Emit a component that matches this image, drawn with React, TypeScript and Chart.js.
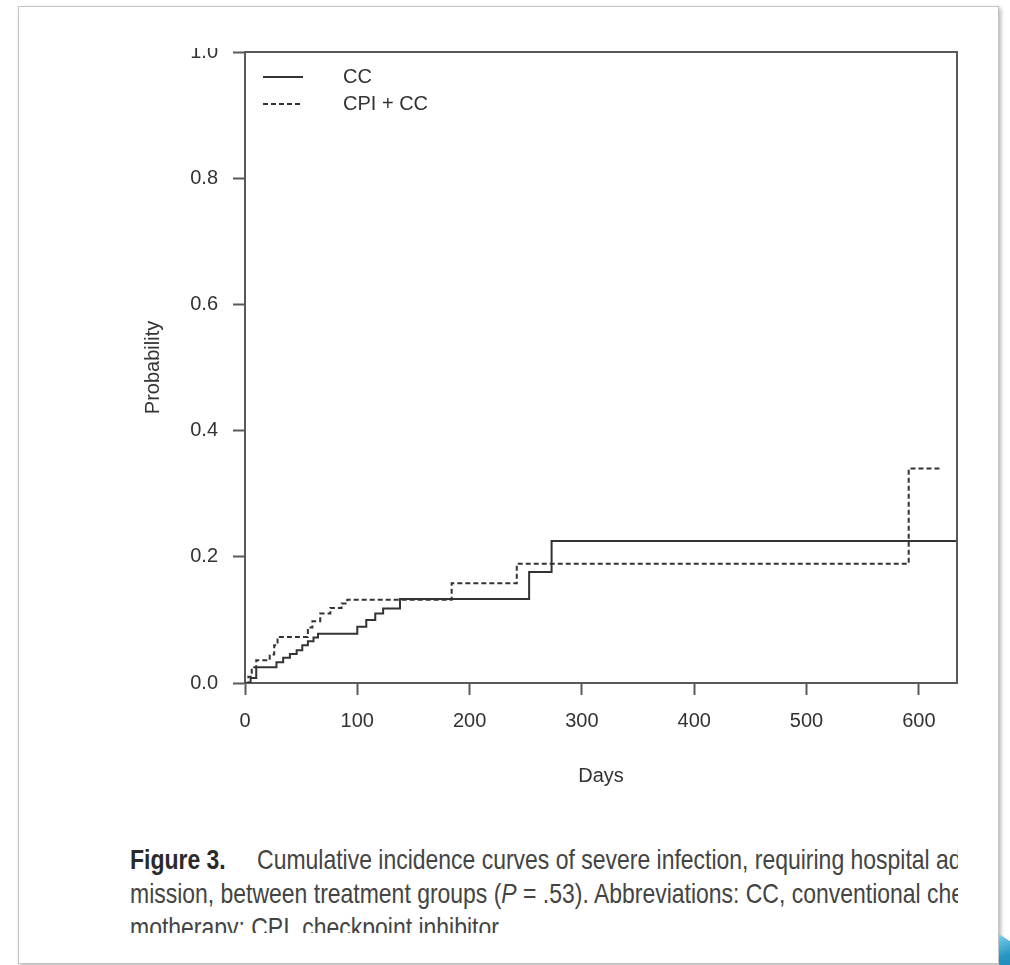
import React, { useEffect, useRef } from "react";
import { Chart, registerables } from "chart.js";

Chart.register(...registerables);

// ---- data ----
const seriesLabels = ["CC", "CPI + CC"];
const ccDays = [0, 5, 10, 28, 34, 40, 46, 51, 56, 61, 65, 100, 108, 116, 123, 138, 253, 273, 634];
const ccProb = [0, 0.008, 0.025, 0.033, 0.04, 0.046, 0.052, 0.06, 0.066, 0.072, 0.078, 0.089, 0.1, 0.11, 0.118, 0.133, 0.176, 0.225, 0.225];
const cpiDays = [0, 3, 6, 10, 22, 26, 29, 56, 60, 67, 76, 86, 91, 184, 242, 591, 619];
const cpiProb = [0, 0.01, 0.025, 0.036, 0.045, 0.06, 0.073, 0.088, 0.098, 0.11, 0.119, 0.126, 0.132, 0.158, 0.189, 0.34, 0.34];
const xTicks = [0, 100, 200, 300, 400, 500, 600];
const yTicks = [0, 0.2, 0.4, 0.6, 0.8, 1.0];
const xMax = 634;
const xTitle = "Days";
const yTitle = "Probability";

const INK = "#333333";
const AXIS = "#595959";
const FONT = "'Liberation Sans', Arial, Helvetica, sans-serif";
const CAPTION_FONT = "'Liberation Sans', Arial, sans-serif";

export default function App() {
  const ref = useRef<HTMLCanvasElement | null>(null);

  useEffect(() => {
    const canvas = ref.current;
    if (!canvas) return;

    const framePlugin = {
      id: "frameBox",
      afterDraw(chart: any) {
        const { ctx, chartArea } = chart;
        ctx.save();
        ctx.strokeStyle = AXIS;
        ctx.lineWidth = 2;
        ctx.beginPath();
        ctx.moveTo(chartArea.left, chartArea.top);
        ctx.lineTo(chartArea.right, chartArea.top);
        ctx.lineTo(chartArea.right, chartArea.bottom);
        ctx.stroke();
        ctx.restore();
      },
    };

    const legendPlugin = {
      id: "kmLegend",
      afterDraw(chart: any) {
        const { ctx, chartArea } = chart;
        ctx.save();
        chart.data.datasets.forEach((ds: any, i: number) => {
          const y = chartArea.top + 25 + i * 27;
          ctx.strokeStyle = ds.borderColor;
          ctx.lineWidth = 2;
          ctx.setLineDash(ds.borderDash || []);
          ctx.beginPath();
          ctx.moveTo(chartArea.left + 18, y);
          ctx.lineTo(chartArea.left + 58, y);
          ctx.stroke();
          ctx.setLineDash([]);
          ctx.fillStyle = INK;
          ctx.font = `20px ${FONT}`;
          ctx.textAlign = "left";
          ctx.textBaseline = "middle";
          ctx.fillText(ds.label, chartArea.left + 98, y);
        });
        ctx.restore();
      },
    };

    const chart = new Chart(canvas, {
      type: "line",
      data: {
        datasets: [
          {
            label: seriesLabels[0],
            data: ccDays.map((d, i) => ({ x: d, y: ccProb[i] })),
            stepped: "before",
            borderColor: INK,
            borderWidth: 2,
            pointRadius: 0,
            fill: false,
          },
          {
            label: seriesLabels[1],
            data: cpiDays.map((d, i) => ({ x: d, y: cpiProb[i] })),
            stepped: "before",
            borderColor: INK,
            borderWidth: 2,
            borderDash: [5, 3],
            pointRadius: 0,
            fill: false,
          },
        ],
      },
      options: {
        animation: false,
        responsive: false,
        devicePixelRatio: 1,
        layout: { padding: { left: 0, top: 52, right: 53, bottom: 0 } },
        plugins: { legend: { display: false }, tooltip: { enabled: false } },
        scales: {
          x: {
            type: "linear",
            min: 0,
            max: xMax,
            afterBuildTicks: (s: any) => {
              s.ticks = xTicks.map((v) => ({ value: v }));
            },
            afterFit: (s: any) => {
              s.height = 117;
            },
            ticks: {
              color: INK,
              font: { size: 20, family: FONT },
              padding: 14,
              autoSkip: false,
              maxRotation: 0,
            },
            grid: { drawOnChartArea: false, drawTicks: true, tickLength: 12, tickWidth: 2, tickColor: AXIS },
            border: { display: true, color: AXIS, width: 2 },
            title: {
              display: true,
              text: xTitle,
              color: INK,
              font: { size: 20, family: FONT },
              padding: { top: 0, bottom: 12 },
            },
          },
          y: {
            type: "linear",
            min: 0,
            max: 1,
            afterBuildTicks: (s: any) => {
              s.ticks = yTicks.map((v) => ({ value: v }));
            },
            afterFit: (s: any) => {
              s.width = 245;
            },
            ticks: {
              color: INK,
              font: { size: 20, family: FONT },
              padding: 15,
              callback: (v: any) => Number(v).toFixed(1),
            },
            grid: { drawOnChartArea: false, drawTicks: true, tickLength: 12, tickWidth: 2, tickColor: AXIS },
            border: { display: true, color: AXIS, width: 2 },
            title: {
              display: true,
              text: yTitle,
              color: INK,
              font: { size: 20, family: FONT },
              padding: { top: 141, bottom: 0 },
            },
          },
        },
      },
      plugins: [framePlugin, legendPlugin],
    } as any);

    return () => chart.destroy();
  }, []);

  const lineStyle: React.CSSProperties = {
    transform: "scaleX(0.82)",
    transformOrigin: "0 0",
    height: 34,
  };

  return (
    <div style={{ position: "absolute", left: 0, top: 0, width: 1010, height: 965, overflow: "hidden", background: "#fff" }}>
      <div
        style={{
          position: "absolute",
          left: 18,
          top: 6,
          width: 979,
          height: 956,
          border: "1px solid #c4c4c4",
          boxShadow: "2px 2px 4px rgba(0,0,0,0.28)",
          background: "#fff",
        }}
      />
      <canvas
        ref={ref}
        width={1010}
        height={800}
        style={{ position: "absolute", left: 0, top: 0, width: 1010, height: 800 }}
      />
      <div style={{ position: "absolute", left: 170, top: 20, width: 62, height: 28, background: "#fff" }} />
      <div
        style={{
          position: "absolute",
          left: 130,
          top: 843,
          width: 828,
          height: 90,
          overflow: "hidden",
          fontFamily: CAPTION_FONT,
          fontSize: 28,
          lineHeight: "34px",
          color: "#444",
          whiteSpace: "nowrap",
        }}
      >
        <div style={lineStyle}>
          <span style={{ fontWeight: "bold", color: "#2a2a2a", display: "inline-block", width: 155 }}>Figure 3.</span>
          Cumulative incidence curves of severe infection, requiring hospital admission
        </div>
        <div style={lineStyle}>
          mission, between treatment groups (<i>P</i> = .53). Abbreviations: CC, conventional chemotherapy
        </div>
        <div style={lineStyle}>motherapy; CPI, checkpoint inhibitor.</div>
      </div>
      <div
        style={{
          position: "absolute",
          left: 999,
          top: 934,
          width: 24,
          height: 40,
          background: "linear-gradient(160deg, #7fd0ea 0%, #2596c4 50%, #1a7fae 100%)",
          clipPath: "polygon(0 0, 100% 40%, 100% 100%, 0 100%)",
        }}
      />
    </div>
  );
}
